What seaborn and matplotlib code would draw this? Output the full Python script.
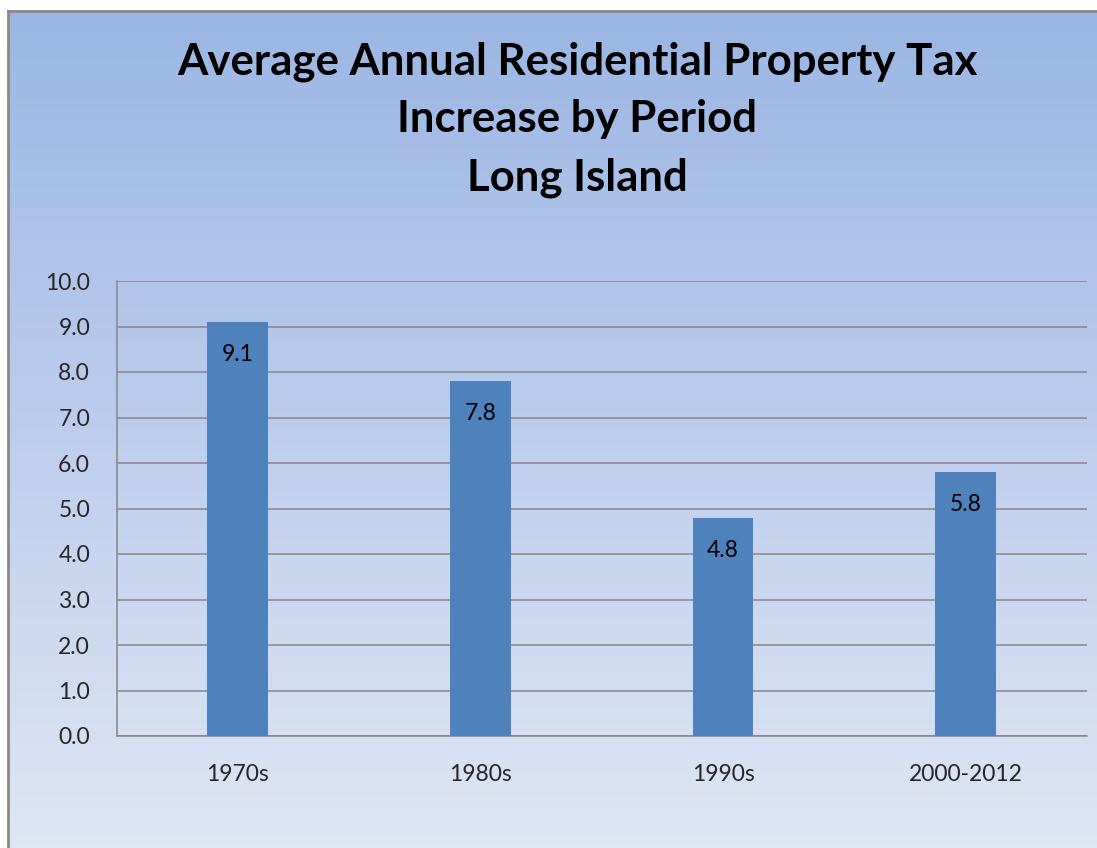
import numpy as np
import pandas as pd
import matplotlib
matplotlib.use("Agg")
import matplotlib.pyplot as plt
from matplotlib.colors import LinearSegmentedColormap
import seaborn as sns

periods = ["1970s", "1980s", "1990s", "2000-2012"]
increase = [9.1, 7.8, 4.8, 5.8]
title_lines = ["Average Annual Residential Property Tax", "Increase by Period", "Long Island"]

sns.set_style("white")
plt.rcParams['font.family'] = ['Lato', 'DejaVu Sans']

fig = plt.figure(figsize=(10.97, 8.48), dpi=100)
fig.patch.set_facecolor("white")

# gradient background panel with border on left/top
bg = fig.add_axes([8 / 1097, 0, 1 - 8 / 1097, 1 - 11 / 848])
cmap = LinearSegmentedColormap.from_list("g", ["#9BB6E4", "#DFE6F4"])
grad = np.linspace(0, 1, 256).reshape(-1, 1)
bg.imshow(grad, aspect="auto", cmap=cmap, extent=[0, 1, 0, 1], origin="upper")
bg.set_xlim(0, 1); bg.set_ylim(0, 1)
bg.set_xticks([]); bg.set_yticks([])
for s in ["right", "bottom"]:
    bg.spines[s].set_visible(False)
for s in ["left", "top"]:
    bg.spines[s].set_color("#888888")
    bg.spines[s].set_linewidth(2)
bg.set_zorder(0)

ax = fig.add_axes([116.5 / 1097, 1 - 736 / 848, (1087 - 116.5) / 1097, (736 - 281) / 848])
ax.patch.set_alpha(0)
df = pd.DataFrame({"period": periods, "increase": increase})
sns.barplot(data=df, x="period", y="increase", color="#4F81BD", saturation=1,
            width=0.25, ax=ax, zorder=3, linewidth=0, edgecolor="none")
ax.set_ylim(0, 10)
ax.set_xlim(-0.5, 3.5)
ax.set_yticks(np.arange(0, 11, 1))
ax.set_yticklabels([f"{v:.1f}" for v in np.arange(0, 11, 1)], fontsize=16.5)
ax.tick_params(axis="y", length=0, pad=19)
ax.tick_params(axis="x", length=0, pad=20, labelsize=16.5)
ax.set_xlabel(""); ax.set_ylabel("")
ax.grid(axis="y", color="#868686", linewidth=1.1, zorder=1)
ax.set_axisbelow(True)
for s in ["top", "right"]:
    ax.spines[s].set_visible(False)
for s in ["left", "bottom"]:
    ax.spines[s].set_color("#868686")
    ax.spines[s].set_linewidth(1.1)

for i, v in enumerate(increase):
    ax.text(i, v - 0.72, f"{v:.1f}", ha="center", va="center", fontsize=16.5, color="black", zorder=4)

for line, ypx in zip(title_lines, [62, 119, 178]):
    fig.text(577 / 1097, 1 - ypx / 848, line, ha="center", va="center",
             fontsize=31.5, fontweight="bold", color="black")

fig.savefig("out.png", dpi=100)
